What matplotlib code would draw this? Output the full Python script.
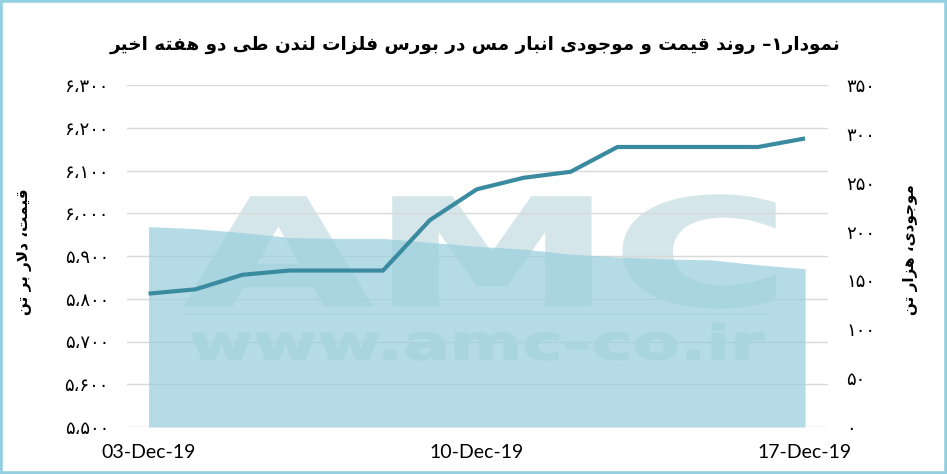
import re
import numpy as np
import matplotlib
matplotlib.use("Agg")
import matplotlib.pyplot as plt
from matplotlib.patches import PathPatch, Rectangle
from matplotlib.textpath import TextPath
from matplotlib.font_manager import FontProperties
from matplotlib.transforms import Affine2D
from matplotlib.ticker import FuncFormatter


# data
dates = ["03-Dec-19", "04-Dec-19", "05-Dec-19", "06-Dec-19", "07-Dec-19",
         "08-Dec-19", "09-Dec-19", "10-Dec-19", "11-Dec-19", "12-Dec-19",
         "13-Dec-19", "14-Dec-19", "15-Dec-19", "16-Dec-19", "17-Dec-19"]
price = [5812, 5822, 5856, 5866, 5866, 5866, 5984, 6056, 6083, 6097,
         6155, 6155, 6155, 6155, 6175]
stock = [205, 203, 199, 194, 193, 193, 189, 185, 182, 177,
         174, 172, 171, 166, 162]
date_ticks = ["03-Dec-19", "10-Dec-19", "17-Dec-19"]
price_ticks = list(range(5500, 6301, 100))
stock_ticks = list(range(0, 351, 50))

title = "نمودار۱– روند قیمت و موجودی انبار مس در بورس فلزات لندن طی دو هفته اخیر"
left_label = "قیمت، دلار بر تن"
right_label = "موجودی، هزار تن"


# tiny arabic shaper: presentation forms + visual (rtl) order
FORMS = {
    "ا": ("\uFE8D", "\uFE8E", None, None),
    "ب": ("\uFE8F", "\uFE90", "\uFE91", "\uFE92"),
    "ت": ("\uFE95", "\uFE96", "\uFE97", "\uFE98"),
    "ج": ("\uFE9D", "\uFE9E", "\uFE9F", "\uFEA0"),
    "خ": ("\uFEA5", "\uFEA6", "\uFEA7", "\uFEA8"),
    "د": ("\uFEA9", "\uFEAA", None, None),
    "ر": ("\uFEAD", "\uFEAE", None, None),
    "ز": ("\uFEAF", "\uFEB0", None, None),
    "س": ("\uFEB1", "\uFEB2", "\uFEB3", "\uFEB4"),
    "ط": ("\uFEC1", "\uFEC2", "\uFEC3", "\uFEC4"),
    "ف": ("\uFED1", "\uFED2", "\uFED3", "\uFED4"),
    "ق": ("\uFED5", "\uFED6", "\uFED7", "\uFED8"),
    "ل": ("\uFEDD", "\uFEDE", "\uFEDF", "\uFEE0"),
    "م": ("\uFEE1", "\uFEE2", "\uFEE3", "\uFEE4"),
    "ن": ("\uFEE5", "\uFEE6", "\uFEE7", "\uFEE8"),
    "ه": ("\uFEE9", "\uFEEA", "\uFEEB", "\uFEEC"),
    "و": ("\uFEED", "\uFEEE", None, None),
    "ی": ("\uFEEF", "\uFEF0", "\uFEF3", "\uFEF4"),
}


def dual(c):
    return c in FORMS and FORMS[c][2] is not None


def shape(text):
    out = []
    i, n = 0, len(text)
    while i < n:
        c = text[i]
        if c not in FORMS:
            out.append(c)
            i += 1
            continue
        joins_prev = i > 0 and dual(text[i - 1])
        if c == "ل" and i + 1 < n and text[i + 1] == "ا":
            out.append("\uFEFC" if joins_prev else "\uFEFB")
            i += 2
            continue
        joins_next = dual(c) and i + 1 < n and text[i + 1] in FORMS
        iso, fin, ini, med = FORMS[c]
        if joins_prev and joins_next:
            out.append(med)
        elif joins_prev:
            out.append(fin)
        elif joins_next:
            out.append(ini)
        else:
            out.append(iso)
        i += 1
    tokens = re.findall(r"[0-9\u06F0-\u06F9]+|.", "".join(out))
    return "".join(reversed(tokens))


FA = str.maketrans("0123456789,", "۰۱۲۳۴۵۶۷۸۹،")


def fa_num(v, pos=None):
    return f"{int(round(v)):,}".translate(FA)


def stamp(ax, s, box, **kw):
    # stretch a text outline into a figure-fraction box (watermark)
    tp = TextPath((0, 0), s, size=1, prop=FontProperties(family="DejaVu Sans", weight="bold"))
    ext = tp.get_extents()
    x0, y0, x1, y1 = box
    tr = (Affine2D().translate(-ext.x0, -ext.y0)
          .scale((x1 - x0) / ext.width, (y1 - y0) / ext.height)
          .translate(x0, y0))
    p = PathPatch(tr.transform_path(tp), transform=ax.figure.transFigure,
                  clip_on=False, **kw)
    ax.add_patch(p)


W, H = 947, 474
x = np.arange(len(dates))

fig = plt.figure(figsize=(W / 100, H / 100), dpi=100)
rect = [127 / W, 1 - 427 / H, (828 - 127) / W, (427 - 85) / H]

ax = fig.add_axes(rect)
ax2 = ax.twinx()
ax3 = fig.add_axes(rect, sharex=ax, sharey=ax)
ax3.axis("off")

# watermark, under the grid and the stock area
wm_col = "#d5e6eb"
stamp(ax, "AMC", (186 / W, 1 - 307 / H, 774 / W, 1 - 196 / H),
      lw=2.5, ec=wm_col, fc=wm_col, zorder=0.5)
stamp(ax, "www.amc-co.ir", (192 / W, 1 - 360 / H, 764 / W, 1 - 323 / H),
      lw=1, ec=wm_col, fc=wm_col, zorder=0.5)
ax.add_patch(Rectangle((183 / W, 1 - 315 / H), (772 - 183) / W, 1.5 / H,
                       transform=fig.transFigure, clip_on=False, lw=0,
                       color=wm_col, zorder=0.5))

# stock area on the right axis
ax2.fill_between(x, stock, 0, color="#9bd0de", alpha=0.75, lw=0, zorder=1)
ax2.set_ylim(0, 350)
ax2.set_yticks(stock_ticks)
ax2.yaxis.set_major_formatter(FuncFormatter(fa_num))

# price line
ax3.plot(x, price, color="#3b8ba0", lw=3, solid_capstyle="butt", zorder=5)

ax.set_xlim(-0.46, len(dates) - 1 + 0.49)
ax.set_ylim(5500, 6300)
ax.set_yticks(price_ticks)
ax.yaxis.set_major_formatter(FuncFormatter(fa_num))
ax.set_xticks([dates.index(d) for d in date_ticks])
ax.set_xticklabels(date_ticks, fontfamily="Lato", fontsize=14)
ax.grid(axis="y", color="#d9d9d9", lw=1)
ax.grid(axis="x", visible=False)

for a in (ax, ax2):
    for sp in a.spines.values():
        sp.set_visible(False)
ax.tick_params(axis="y", length=0, pad=13, labelsize=13)
ax.tick_params(axis="x", length=0, pad=12)
ax2.tick_params(axis="y", length=0, pad=13, labelsize=13)

fig.text(25 / W, 1 - 252 / H, shape(left_label), rotation=90, ha="center", va="center",
         fontsize=11, fontweight="bold", family="DejaVu Sans")
fig.text(910 / W, 1 - 250 / H, shape(right_label), rotation=90, ha="center", va="center",
         fontsize=11, fontweight="bold", family="DejaVu Sans")
fig.text(475 / W, 1 - 45 / H, shape(title), ha="center", va="center",
         fontsize=13.2, fontweight="bold", family="DejaVu Sans")

fig.patches.append(Rectangle((0, 0), 1, 1, transform=fig.transFigure, fill=False,
                             ec="#92cfe0", lw=4))

fig.savefig("out.png", dpi=100)
